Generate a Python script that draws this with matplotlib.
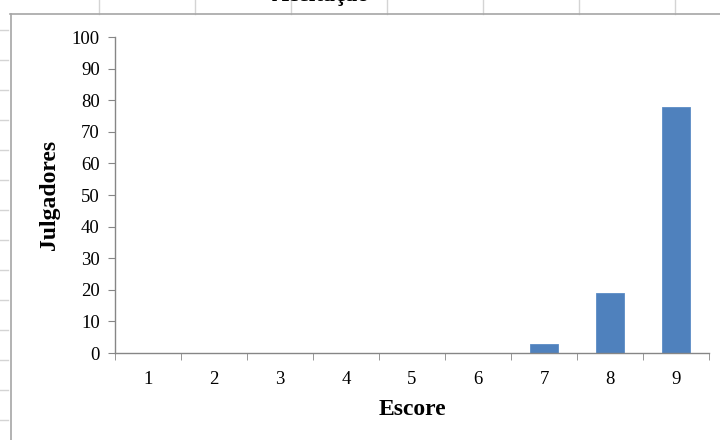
import matplotlib.pyplot as plt
from matplotlib.lines import Line2D

# --- Data ---
escores = [1, 2, 3, 4, 5, 6, 7, 8, 9]
julgadores = [0, 0, 0, 0, 0, 0, 3, 19, 78]
y_ticks = [0, 10, 20, 30, 40, 50, 60, 70, 80, 90, 100]
titulo = 'Aceitação'

W, H = 720, 440
plt.rcParams['font.family'] = ['Liberation Serif', 'DejaVu Serif']

fig = plt.figure(figsize=(W / 100, H / 100), dpi=100)
fig.patch.set_facecolor('white')


def fx(px):
    return px / W


def fy(py):
    return 1 - py / H


# spreadsheet grid showing around the chart object
grid_col = '#d4d4d4'
for x in [99, 195, 291, 387, 483, 579, 675]:
    fig.add_artist(Line2D([fx(x), fx(x)], [fy(0), fy(14)], color=grid_col, lw=1))
for y in range(30, 440, 30):
    fig.add_artist(Line2D([fx(0), fx(8)], [fy(y), fy(y)], color=grid_col, lw=1))

# chart frame edges
frame_col = '#a6a6a6'
fig.add_artist(Line2D([fx(10), fx(720)], [fy(14), fy(14)], color=frame_col, lw=1.2))
fig.add_artist(Line2D([fx(11), fx(11)], [fy(14), fy(440)], color=frame_col, lw=1.2))

# title, cut off by the top edge as in the screenshot
fig.text(fx(321), fy(1.5), titulo, ha='center', va='baseline',
         fontsize=17, fontweight='bold')

ax = fig.add_axes([fx(115), fy(353), fx(709) - fx(115), fy(37) - fy(353)])
ax.bar(escores, julgadores, width=0.41, color='#4f81bd', edgecolor='#5b8cc6', linewidth=0.6)

ax.set_xlim(0.5, 9.5)
ax.set_ylim(0, 100)
ax.set_yticks(y_ticks)
ax.set_xticks(escores)
ax.set_xticks([e + 0.5 for e in [0] + escores], minor=True)

axis_col = '#868686'
for side in ['top', 'right']:
    ax.spines[side].set_visible(False)
for side in ['left', 'bottom']:
    ax.spines[side].set_color(axis_col)
    ax.spines[side].set_linewidth(1.0)

ax.tick_params(axis='x', which='major', length=0, pad=13, labelsize=13.5)
ax.tick_params(axis='x', which='minor', length=5, color=axis_col, direction='out')
ax.tick_params(axis='y', length=5, color=axis_col, direction='out', pad=6, labelsize=13.5)

ax.set_xlabel('Escore', fontsize=17, fontweight='bold', labelpad=8)
ax.set_ylabel('Julgadores', fontsize=17, fontweight='bold', labelpad=8)

fig.savefig('out.png', dpi=100)
